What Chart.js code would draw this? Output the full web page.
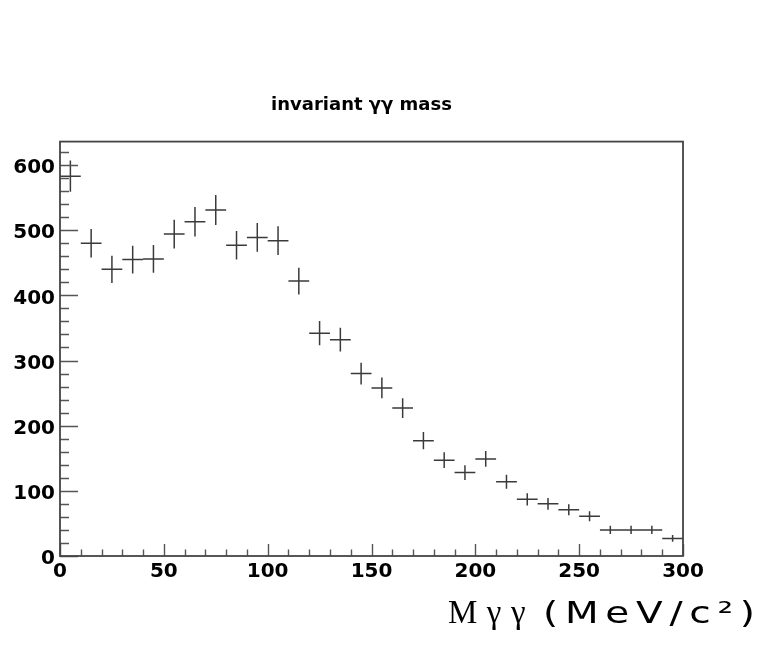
<!DOCTYPE html>
<html><head><meta charset="utf-8">
<script src="https://cdn.jsdelivr.net/npm/chart.js@4"></script>
<style>html,body{margin:0;padding:0;background:#fff}canvas{display:block}</style>
</head><body>
<canvas id="c" width="758" height="652"></canvas>
<script>
// ---- data ----
const chartTitle = 'invariant γγ mass';
const xTitleSymbol = 'Mγγ';
const xTitleUnit = '(MeV/c²)';
const binLow  = [0,10,20,30,40,50,60,70,80,90,100,110,120,130,140,150,160,170,180,190,200,210,220,230,240,250,260,270,280,290];
const binHigh = [10,20,30,40,50,60,70,80,90,100,110,120,130,140,150,160,170,180,190,200,210,220,230,240,250,260,270,280,290,300];
const counts  = [583,480,440,455,456,494,513,531,477,489,484,422,342,332,280,258,227,177,147,128,149,114,87,80,71,61,40,40,40,27];
const xTickLabels = [0,50,100,150,200,250,300];
const yTickLabels = [0,100,200,300,400,500,600];
const xMinorStep = 10;
const yMinorStep = 20;
const xMin = 0, xMax = 300, yMin = 0, yMax = 636;

// build segment datasets (bin width bars and sqrt(N) error bars)
const hSeg = [], vSeg = [];
counts.forEach((n, i) => {
  const c = (binLow[i] + binHigh[i]) / 2;
  const e = Math.sqrt(n);
  hSeg.push({x: binLow[i], y: n}, {x: binHigh[i], y: n}, {x: binHigh[i], y: null});
  vSeg.push({x: c, y: n - e}, {x: c, y: n + e}, {x: c, y: null});
});

const ink = '#3a3a3a';

const rootStyle = {
  id: 'rootStyle',
  afterDatasetsDraw(chart) {
    const ctx = chart.ctx, a = chart.chartArea;
    const xs = chart.scales.x, ys = chart.scales.y;
    ctx.save();
    ctx.strokeStyle = '#555';
    ctx.lineWidth = 1.4;
    ctx.beginPath();
    for (let v = xMin; v <= xMax; v += xMinorStep) {
      const px = Math.round(xs.getPixelForValue(v)) + 0.5;
      const len = xTickLabels.includes(v) ? 12 : 6.5;
      ctx.moveTo(px, a.bottom); ctx.lineTo(px, a.bottom - len);
    }
    for (let v = yMin; v <= yMax; v += yMinorStep) {
      const py = Math.round(ys.getPixelForValue(v)) + 0.5;
      const len = yTickLabels.includes(v) ? 18 : 9;
      ctx.moveTo(a.left, py); ctx.lineTo(a.left + len, py);
    }
    ctx.stroke();
    ctx.strokeStyle = '#444';
    ctx.lineWidth = 1.8;
    ctx.strokeRect(a.left, a.top, a.right - a.left, a.bottom - a.top);
    ctx.restore();
  },
  afterDraw(chart) {
    const ctx = chart.ctx;
    ctx.save();
    ctx.fillStyle = '#000';
    ctx.textBaseline = 'alphabetic';
    ctx.textAlign = 'left';
    const base = 623;
    // symbol part, serif
    ctx.font = '33px "Liberation Serif"';
    ctx.letterSpacing = '0px';
    let w0 = ctx.measureText(xTitleSymbol).width;
    ctx.letterSpacing = ((87 - w0) / xTitleSymbol.length) + 'px';
    ctx.fillText(xTitleSymbol, 448, base);
    // unit part, wide sans
    const sx = 1.3;
    ctx.font = '30px "DejaVu Sans"';
    ctx.letterSpacing = '0px';
    w0 = ctx.measureText(xTitleUnit).width;
    ctx.letterSpacing = ((212 / sx - w0) / (xTitleUnit.length - 1)) + 'px';
    ctx.translate(543, base);
    ctx.scale(sx, 1);
    ctx.fillText(xTitleUnit, 0, 0);
    ctx.restore();
  }
};

const tickFont = {family: '"DejaVu Sans"', size: 20, weight: 'bold'};

new Chart(document.getElementById('c'), {
  type: 'scatter',
  data: {
    datasets: [
      {data: hSeg, showLine: true, spanGaps: false, borderColor: ink, borderWidth: 1.5, pointRadius: 0, pointHoverRadius: 0},
      {data: vSeg, showLine: true, spanGaps: false, borderColor: ink, borderWidth: 1.5, pointRadius: 0, pointHoverRadius: 0}
    ]
  },
  options: {
    responsive: false,
    animation: false,
    devicePixelRatio: 1,
    layout: {padding: {left: 8, right: 43, top: 0, bottom: 0}},
    plugins: {
      legend: {display: false},
      tooltip: {enabled: false},
      title: {
        display: true, text: chartTitle, color: '#000',
        font: {family: '"DejaVu Sans"', size: 18, weight: 'bold', lineHeight: 1.2},
        padding: {top: 95, bottom: 25}
      }
    },
    scales: {
      x: {
        type: 'linear', min: xMin, max: xMax,
        afterBuildTicks: s => { s.ticks = xTickLabels.map(v => ({value: v})); },
        afterFit: s => { s.height = 96; },
        grid: {display: false, drawTicks: false},
        border: {display: false},
        ticks: {color: '#000', font: tickFont, padding: 4, maxRotation: 0, autoSkip: false}
      },
      y: {
        type: 'linear', min: yMin, max: yMax,
        afterBuildTicks: s => { s.ticks = yTickLabels.map(v => ({value: v})); },
        afterFit: s => { s.width = 52; },
        grid: {display: false, drawTicks: false},
        border: {display: false},
        ticks: {color: '#000', font: tickFont, padding: 5, labelOffset: 3, autoSkip: false}
      },
      yRight: {
        type: 'linear', position: 'right', min: yMin, max: yMax,
        afterFit: s => { s.width = 32; },
        grid: {display: false, drawTicks: false},
        border: {display: false},
        ticks: {display: false}
      }
    }
  },
  plugins: [rootStyle]
});
</script>
</body></html>
